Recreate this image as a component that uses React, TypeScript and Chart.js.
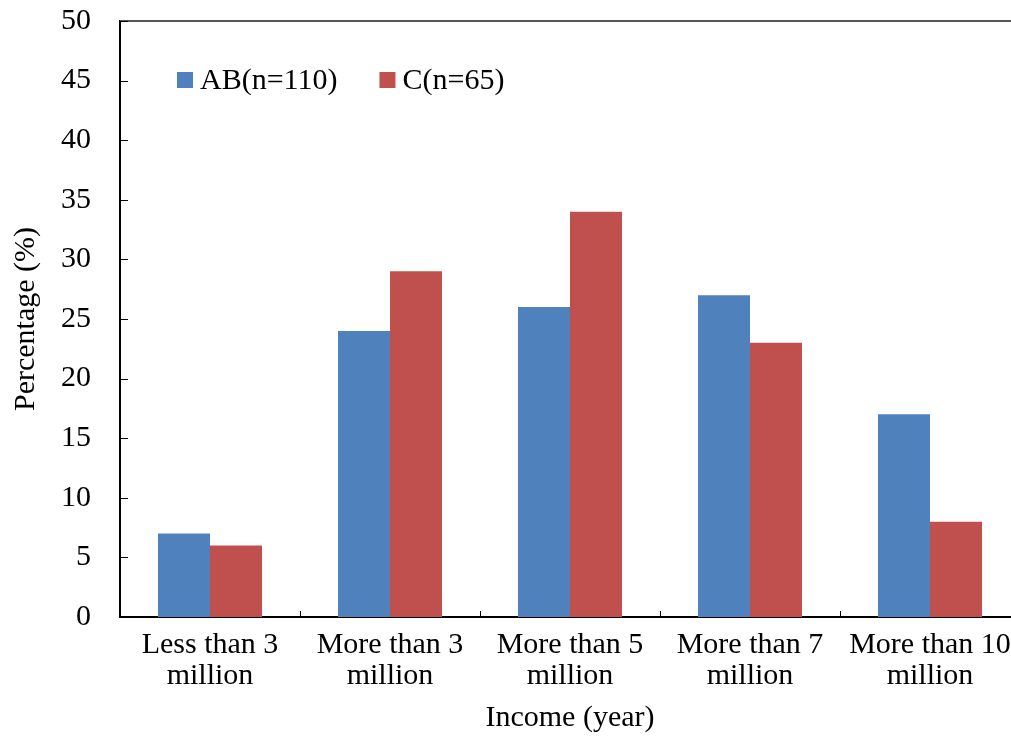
import React, { useEffect, useRef } from "react";
import { Chart, registerables } from "chart.js";

Chart.register(...registerables);

const categories: string[][] = [
  ["Less than 3", "million"],
  ["More than 3", "million"],
  ["More than 5", "million"],
  ["More than 7", "million"],
  ["More than 10", "million"],
];
const abValues = [7, 24, 26, 27, 17];
const cValues = [6, 29, 34, 23, 8];
const seriesLabels = ["AB(n=110)", "C(n=65)"];
const seriesColors = ["#4F81BD", "#C0504D"];
const yMin = 0;
const yMax = 50;
const yStep = 5;
const xTitle = "Income (year)";
const yTitle = "Percentage (%)";

const FONT = "'Liberation Serif', 'Times New Roman', serif";
const FS = 30;

const decorPlugin = {
  id: "decor",
  afterDraw(chart: any) {
    const { ctx, chartArea } = chart;
    const x = chart.scales.x;
    const y = chart.scales.y;
    ctx.save();
    // top frame line
    ctx.strokeStyle = "#555555";
    ctx.lineWidth = 2;
    ctx.beginPath();
    ctx.moveTo(chartArea.left, chartArea.top);
    ctx.lineTo(chart.width, chartArea.top);
    ctx.stroke();
    // y ticks (inward)
    ctx.strokeStyle = "#000000";
    ctx.lineWidth = 1;
    y.ticks.forEach((t: any) => {
      const py = Math.round(y.getPixelForValue(t.value)) + 0.5;
      ctx.beginPath();
      ctx.moveTo(chartArea.left, py);
      ctx.lineTo(chartArea.left + 8, py);
      ctx.stroke();
    });
    // x ticks at category boundaries (inward)
    const n = x.ticks.length;
    for (let i = 1; i < n; i++) {
      const bx = Math.round((x.getPixelForTick(i - 1) + x.getPixelForTick(i)) / 2) + 0.5;
      ctx.beginPath();
      ctx.moveTo(bx, chartArea.bottom);
      ctx.lineTo(bx, chartArea.bottom - 6);
      ctx.stroke();
    }
    // legend
    ctx.font = `${FS}px ${FONT}`;
    ctx.textBaseline = "middle";
    ctx.textAlign = "left";
    let lx = chartArea.left + 57;
    const ly = 80;
    chart.data.datasets.forEach((ds: any, i: number) => {
      ctx.fillStyle = ds.backgroundColor;
      ctx.fillRect(lx, ly - 8, 16, 16);
      ctx.fillStyle = "#000000";
      ctx.fillText(ds.label, lx + 23, ly + 1);
      lx = lx + 23 + ctx.measureText(ds.label).width + 42;
    });
    ctx.restore();
  },
};

export default function App() {
  const ref = useRef<HTMLCanvasElement | null>(null);
  useEffect(() => {
    if (!ref.current) return;
    const chart = new Chart(ref.current, {
      type: "bar",
      data: {
        labels: categories,
        datasets: [
          {
            label: seriesLabels[0],
            data: abValues,
            backgroundColor: seriesColors[0],
            borderWidth: 0,
            barPercentage: 1,
            categoryPercentage: 0.578,
          },
          {
            label: seriesLabels[1],
            data: cValues,
            backgroundColor: seriesColors[1],
            borderWidth: 0,
            barPercentage: 1,
            categoryPercentage: 0.578,
          },
        ],
      },
      options: {
        animation: false,
        responsive: false,
        maintainAspectRatio: false,
        devicePixelRatio: 1,
        layout: { padding: { top: 21, left: 0, right: 0, bottom: 0 } },
        plugins: {
          legend: { display: false },
          tooltip: { enabled: false },
        },
        scales: {
          x: {
            grid: { display: false },
            border: { display: true, color: "#000000", width: 2 },
            ticks: {
              color: "#000000",
              font: { family: FONT, size: FS, lineHeight: 1.05 },
              padding: 4,
              maxRotation: 0,
              autoSkip: false,
            },
            title: {
              display: true,
              text: xTitle,
              color: "#000000",
              font: { family: FONT, size: FS, lineHeight: 1.2 },
              padding: { top: 0, bottom: 4 },
            },
            afterFit: (s: any) => {
              s.height = 123;
              s.paddingLeft = 0;
              s.paddingRight = 0;
            },
          },
          y: {
            min: yMin,
            max: yMax,
            grid: { display: false },
            border: { display: true, color: "#000000", width: 2 },
            ticks: {
              stepSize: yStep,
              color: "#000000",
              font: { family: FONT, size: FS },
              padding: 21,
            },
            title: {
              display: true,
              text: yTitle,
              color: "#000000",
              font: { family: FONT, size: FS, lineHeight: 1.2 },
              padding: { top: 8, bottom: 0 },
            },
            afterFit: (s: any) => {
              s.width = 120;
              s.paddingTop = 0;
              s.paddingBottom = 0;
            },
          },
        },
      },
      plugins: [decorPlugin],
    });
    return () => chart.destroy();
  }, []);
  return (
    <div
      style={{
        position: "fixed",
        left: 0,
        top: 0,
        width: 1011,
        height: 740,
        overflow: "hidden",
        background: "#ffffff",
      }}
    >
      <canvas ref={ref} width={1020} height={740} style={{ width: 1020, height: 740, display: "block" }} />
    </div>
  );
}
